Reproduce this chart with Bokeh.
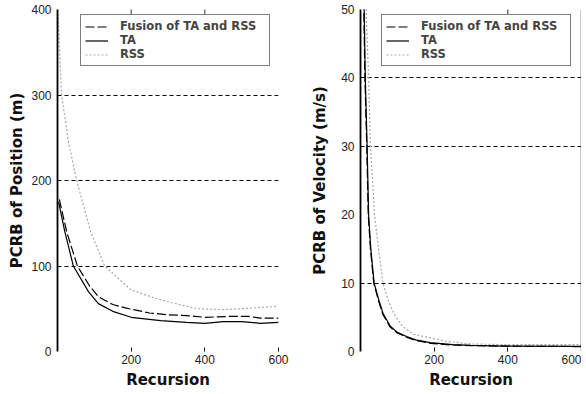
import math
from bokeh.plotting import figure
from bokeh.models import Range1d, FixedTicker, Legend, LegendItem, Span
from bokeh.layouts import row
from bokeh.embed import file_html
from bokeh.resources import INLINE

# ---- data ----
X_TICKS = [200, 400, 600]
X_LABELS = ["200", "400", "600"]
TOP_TICKS_POS = [200, 400]
TOP_TICKS_VEL = [400]
POS_TICKS = [0, 100, 200, 300, 400]
POS_GRID = [100, 200, 300]
VEL_TICKS = [0, 10, 20, 30, 40, 50]
VEL_GRID = [10, 30, 40]

# Position panel
REC_POS_TA = [3, 20, 43, 84, 111, 150, 200, 280, 350, 400, 450, 500, 550, 600]
POS_TA = [175, 140, 100, 70, 56, 47, 40, 36, 34, 33, 35, 35, 33, 34]
REC_POS_FUS = [5, 25, 54, 85, 111, 150, 184, 250, 300, 350, 400, 465, 520, 550, 600]
POS_FUS = [178, 140, 100, 78, 64, 55, 51, 45, 43, 42, 40, 41, 41, 39, 39]
REC_POS_RSS = [1, 11, 30, 52, 90, 128, 200, 260, 310, 380, 450, 500, 600]
POS_RSS = [400, 300, 245, 200, 140, 100, 72, 63, 57, 50, 49, 50, 53]

# Velocity panel
REC_VEL_TA = [8, 10, 13, 18, 20, 22, 28, 37, 50, 61, 81, 100, 125, 150, 189, 250, 300, 400, 600]
VEL_TA = [60, 50, 40, 30, 25, 20, 15, 10, 7.5, 5.6, 3.7, 2.8, 2.2, 1.7, 1.3, 1.0, 0.9, 0.8, 0.75]
REC_VEL_FUS = [7, 9, 12, 17, 19, 21, 27, 36, 49, 60, 80, 100, 125, 150, 190, 250, 300, 400, 600]
VEL_FUS = [60, 50, 40, 30, 25, 20, 15, 10, 7.4, 5.5, 3.6, 2.7, 2.1, 1.6, 1.2, 0.95, 0.85, 0.78, 0.72]
REC_VEL_RSS = [13, 15, 22, 27, 33, 38, 49, 61, 75, 90, 113, 145, 190, 230, 300, 400, 600]
VEL_RSS = [60, 50, 40, 30, 25, 20, 15, 10, 7.5, 5.6, 3.7, 2.5, 2.0, 1.5, 1.1, 1.0, 1.0]

LABELS = ["Fusion of TA and RSS", "TA", "RSS"]

TICK_FONT = "Liberation Sans"
LABEL_FONT = "DejaVu Sans"
FRAME_H = 342


def make_panel(ylabel, ymax, yticks, ygrid, top_ticks, data, frame_w, border_left,
               border_right, ylabel_standoff, legend_x, right_line=False):
    p = figure(frame_width=frame_w, frame_height=FRAME_H,
               output_backend="svg", toolbar_location=None,
               x_range=Range1d(0, X_TICKS[-1]), y_range=Range1d(0, ymax),
               min_border_left=border_left, min_border_right=border_right,
               min_border_top=9, min_border_bottom=0)
    p.outline_line_color = None
    p.background_fill_color = "white"
    p.border_fill_color = "white"

    # axes
    p.xaxis.ticker = FixedTicker(ticks=X_TICKS)
    p.xaxis.major_label_overrides = {t: l for t, l in zip(X_TICKS, X_LABELS)}
    p.xaxis.axis_line_color = None
    p.xaxis.major_tick_in = 4
    p.xaxis.major_tick_out = 0
    p.xaxis.minor_tick_line_color = None
    p.xaxis.major_tick_line_color = "black"
    p.xaxis.major_label_standoff = 3
    p.xaxis.axis_label = "Recursion"
    p.xaxis.axis_label_standoff = 4

    p.yaxis.ticker = FixedTicker(ticks=yticks)
    p.yaxis.axis_line_color = "black"
    p.yaxis.axis_line_width = 1.8
    p.yaxis.major_tick_in = 0
    p.yaxis.major_tick_out = 0
    p.yaxis.minor_tick_line_color = None
    p.yaxis.major_label_standoff = 6
    p.yaxis.axis_label = ylabel
    p.yaxis.axis_label_standoff = ylabel_standoff

    for ax in (p.xaxis, p.yaxis):
        ax.major_label_text_font = TICK_FONT
        ax.major_label_text_font_size = "12px"
        ax.major_label_text_color = "#222222"
        ax.axis_label_text_font = LABEL_FONT
        ax.axis_label_text_font_style = "bold"
        ax.axis_label_text_font_size = "15px"
        ax.axis_label_text_color = "#111111"

    # grid
    p.xgrid.visible = False
    p.ygrid.ticker = FixedTicker(ticks=ygrid)
    p.ygrid.grid_line_color = "black"
    p.ygrid.grid_line_dash = "4 3"
    p.ygrid.grid_line_width = 1

    # small inward ticks along the top edge (half of each dash is clipped by the frame)
    p.scatter(x=top_ticks, y=[ymax] * len(top_ticks), marker="dash", angle=math.pi / 2,
              size=10, line_color="#333333", line_width=1)

    if right_line:
        p.add_layout(Span(location=X_TICKS[-1], dimension="height",
                          line_color="black", line_width=1.4))

    (rx_f, y_f), (rx_t, y_t), (rx_r, y_r) = data
    r_rss = p.line(rx_r, y_r, line_color="#a8a8a8", line_width=1.2, line_dash="2 2")
    r_fus = p.line(rx_f, y_f, line_color="black", line_width=1.2, line_dash="9 3")
    r_ta = p.line(rx_t, y_t, line_color="black", line_width=1.2)

    legend = Legend(items=[LegendItem(label=LABELS[0], renderers=[r_fus]),
                           LegendItem(label=LABELS[1], renderers=[r_ta]),
                           LegendItem(label=LABELS[2], renderers=[r_rss])],
                    location=(legend_x, FRAME_H - 57))
    legend.border_line_color = "black"
    legend.border_line_width = 1.2
    legend.background_fill_color = "white"
    legend.background_fill_alpha = 1
    legend.label_text_font = LABEL_FONT
    legend.label_text_font_style = "bold"
    legend.label_text_font_size = "11.5px"
    legend.label_height = 13
    legend.label_width = 145
    legend.glyph_height = 13
    legend.glyph_width = 23
    legend.label_standoff = 12
    legend.spacing = 0
    legend.padding = 4
    legend.margin = 0
    p.add_layout(legend)
    return p


left = make_panel("PCRB of Position (m)", POS_TICKS[-1], POS_TICKS, POS_GRID, TOP_TICKS_POS,
                  [(REC_POS_FUS, POS_FUS), (REC_POS_TA, POS_TA), (REC_POS_RSS, POS_RSS)],
                  frame_w=221, border_left=57, border_right=22, ylabel_standoff=2, legend_x=23)
right = make_panel("PCRB of Velocity (m/s)", VEL_TICKS[-1], VEL_TICKS, VEL_GRID, TOP_TICKS_VEL,
                   [(REC_VEL_FUS, VEL_FUS), (REC_VEL_TA, VEL_TA), (REC_VEL_RSS, VEL_RSS)],
                   frame_w=221, border_left=60, border_right=0, ylabel_standoff=9,
                   legend_x=21, right_line=True)

layout = row(left, right)
open("out.html", "w").write(file_html(layout, INLINE))
